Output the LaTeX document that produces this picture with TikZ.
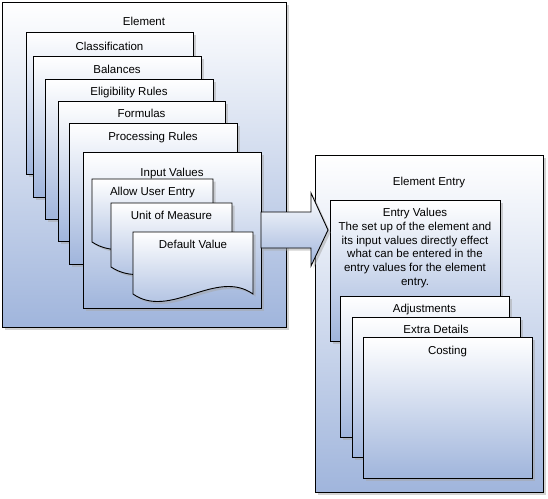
\documentclass[tikz,border=0pt]{standalone}
\usepackage{fontspec}
\setmainfont{Liberation Sans}
\usetikzlibrary{shadows}
\definecolor{panelblue}{RGB}{160,181,220}
\tikzset{
  panel/.style={draw, line width=0.9pt, anchor=north west, inner sep=0pt, outer sep=0pt,
    top color=white, bottom color=panelblue,
    drop shadow={shadow xshift=2.5pt, shadow yshift=-2.5pt, fill=black!35}},
  docpanel/.style={draw, line width=0.9pt, top color=white, bottom color=panelblue,
    drop shadow={shadow xshift=2.5pt, shadow yshift=-2.5pt, fill=black!35}},
  paneltitle/.style={anchor=base, inner sep=0pt},
}
\begin{document}
\begin{tikzpicture}[x=1pt, y=-1pt, font=\fontsize{11.5}{13.8}\selectfont]
    \useasboundingbox (0,0) rectangle (548,498);
    % element and its parts
    \node[panel, minimum width=284pt, minimum height=325pt] (elem) at (2,2) {};
    \node[paneltitle] (elemT) at ([yshift=-23pt]elem.north) {Element};
    \node[panel, minimum width=167pt, minimum height=142pt] (class) at (26,32) {};
    \node[paneltitle] (classT) at ([yshift=-18pt]class.north) {Classification};
    \node[panel, minimum width=168pt, minimum height=141pt] (bal) at (33,56) {};
    \node[paneltitle] (balT) at ([yshift=-17pt]bal.north) {Balances};
    \node[panel, minimum width=168pt, minimum height=140pt] (elig) at (45,79) {};
    \node[paneltitle] (eligT) at ([yshift=-16pt]elig.north) {Eligibility Rules};
    \node[panel, minimum width=167pt, minimum height=140pt] (form) at (58,101) {};
    \node[paneltitle] (formT) at ([yshift=-16pt]form.north) {Formulas};
    \node[panel, minimum width=168pt, minimum height=141pt] (proc) at (69,123) {};
    \node[paneltitle] (procT) at ([yshift=-17pt]proc.north) {Processing Rules};
    \node[panel, minimum width=178pt, minimum height=156pt] (inval) at (83,152) {};
    \node[paneltitle] (invalT) at ([yshift=-24pt]inval.north) {Input Values};
    % input value settings
    \draw[docpanel] (92,179) -- (213,179) -- (213,242) .. controls (173,216) and (132,268) .. (92,242) -- cycle;
    \node[paneltitle] (allowT) at (152.5,195) {Allow User Entry};
    \draw[docpanel] (111,203) -- (232,203) -- (232,267) .. controls (192,241) and (151,293) .. (111,267) -- cycle;
    \node[paneltitle] (unitT) at (171.5,219) {Unit of Measure};
    \draw[docpanel] (133,232) -- (253,232) -- (253,294) .. controls (216,268) and (170,320) .. (133,294) -- cycle;
    \node[paneltitle] (defT) at (193,248) {Default Value};
    % element entry and its parts
    \node[panel, minimum width=228pt, minimum height=337pt] (entry) at (315,155) {};
    \node[paneltitle] (entryT) at ([yshift=-30pt]entry.north) {Element Entry};
    \node[panel, minimum width=170pt, minimum height=141pt] (entval) at (330,200) {};
    \node[anchor=north, align=center, inner sep=0pt] (entvalT) at ([yshift=-8pt]entval.north)
      {Entry Values\\The set up of the element and\\its input values directly effect\\what can be entered in the\\entry values for the element\\entry.};
    \node[panel, minimum width=169pt, minimum height=141pt] (adj) at (340,296) {};
    \node[paneltitle] (adjT) at ([yshift=-16pt]adj.north) {Adjustments};
    \node[panel, minimum width=168pt, minimum height=140pt] (extra) at (352,317) {};
    \node[paneltitle] (extraT) at ([yshift=-16pt]extra.north) {Extra Details};
    \node[panel, minimum width=169pt, minimum height=141pt] (cost) at (363,337) {};
    \node[paneltitle] (costT) at ([yshift=-17pt]cost.north) {Costing};
    % arrow from input values to element entry
    \draw[docpanel] (inval.east |- 0,212) -- (311,212) -- (311,193) -- (328,230)
      -- (311,266) -- (311,248) -- (inval.east |- 0,248) -- cycle;
\end{tikzpicture}
\end{document}
